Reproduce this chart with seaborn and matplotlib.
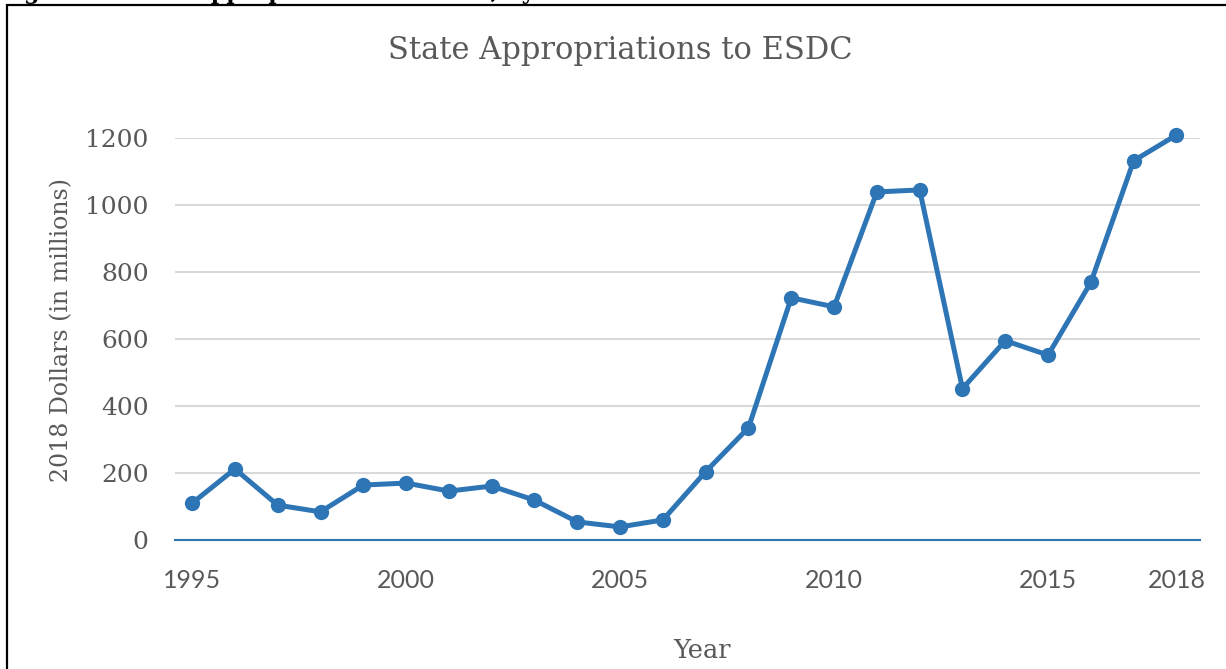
import numpy as np
import pandas as pd
import seaborn as sns
import matplotlib.pyplot as plt
from matplotlib.patches import Rectangle

# values
years = [1995, 1996, 1997, 1998, 1999, 2000, 2001, 2002, 2003, 2004, 2005, 2006,
         2007, 2008, 2009, 2010, 2011, 2012, 2013, 2014, 2015, 2016, 2017, 2018]
dollars = [110, 212, 104, 84, 164, 170, 146, 161, 119, 54, 39, 60,
           204, 335, 723, 696, 1039, 1045, 452, 595, 552, 769, 1132, 1209]
x_ticks = [1995, 2000, 2005, 2010, 2015, 2018]
y_ticks = [0, 200, 400, 600, 800, 1000, 1200]

data = pd.DataFrame({'year': years, 'dollars': dollars})

sns.set_style('white')
plt.rcParams['font.family'] = ['DejaVu Serif']

blue = '#2E75B6'
grey = '#595959'

fig = plt.figure(figsize=(12.26, 6.69), dpi=100)
ax = fig.add_axes([175 / 1226, 1 - 540 / 669, 1025 / 1226, 402 / 669])

sns.lineplot(data=data, x='year', y='dollars', ax=ax, color=blue, linewidth=3.6,
             marker='o', markersize=11, markeredgewidth=0, clip_on=False, zorder=3)

ax.set_xlim(1994.6, 2018.55)
ax.set_ylim(0, 1200)
ax.set_xticks(x_ticks)
ax.set_yticks(y_ticks)
ax.tick_params(length=0)
for lab in ax.get_xticklabels():
    lab.set_fontfamily('Lato')
    lab.set_fontsize(18)
    lab.set_color(grey)
for lab in ax.get_yticklabels():
    lab.set_fontsize(18)
    lab.set_color(grey)
ax.tick_params(axis='x', pad=21)
ax.tick_params(axis='y', pad=19)

ax.yaxis.grid(True, color='#D9D9D9', linewidth=1.5)
ax.set_axisbelow(True)
for side in ['top', 'right', 'left']:
    ax.spines[side].set_visible(False)
ax.spines['bottom'].set_color(blue)
ax.spines['bottom'].set_linewidth(1.5)

ax.set_xlabel('')
ax.set_ylabel('')
fig.text(62 / 1226, 1 - 330 / 669, '2018 Dollars (in millions)', rotation=90,
         ha='center', va='center', fontsize=17, color=grey)
fig.text(702 / 1226, 1 - 650 / 669, 'Year', ha='center', va='center',
         fontsize=18.5, color=grey)
fig.text(620 / 1226, 1 - 50 / 669, 'State Appropriations to ESDC', ha='center',
         va='center', fontsize=22, color=grey)

# caption cut off above the frame, as in the reference
fig.text(0.0, 1 + 1 / 669, 'Figure 5: State Appropriations to ESDC, by Year',
         ha='left', va='baseline', fontsize=16, fontweight='bold', color='black')

# frame around the chart
fig.patches.append(Rectangle((7 / 1226, -0.1), 1.2, 1 - 5 / 669 + 0.1,
                             transform=fig.transFigure, fill=False,
                             edgecolor='black', linewidth=1.6))

fig.savefig('out.png', dpi=100)
